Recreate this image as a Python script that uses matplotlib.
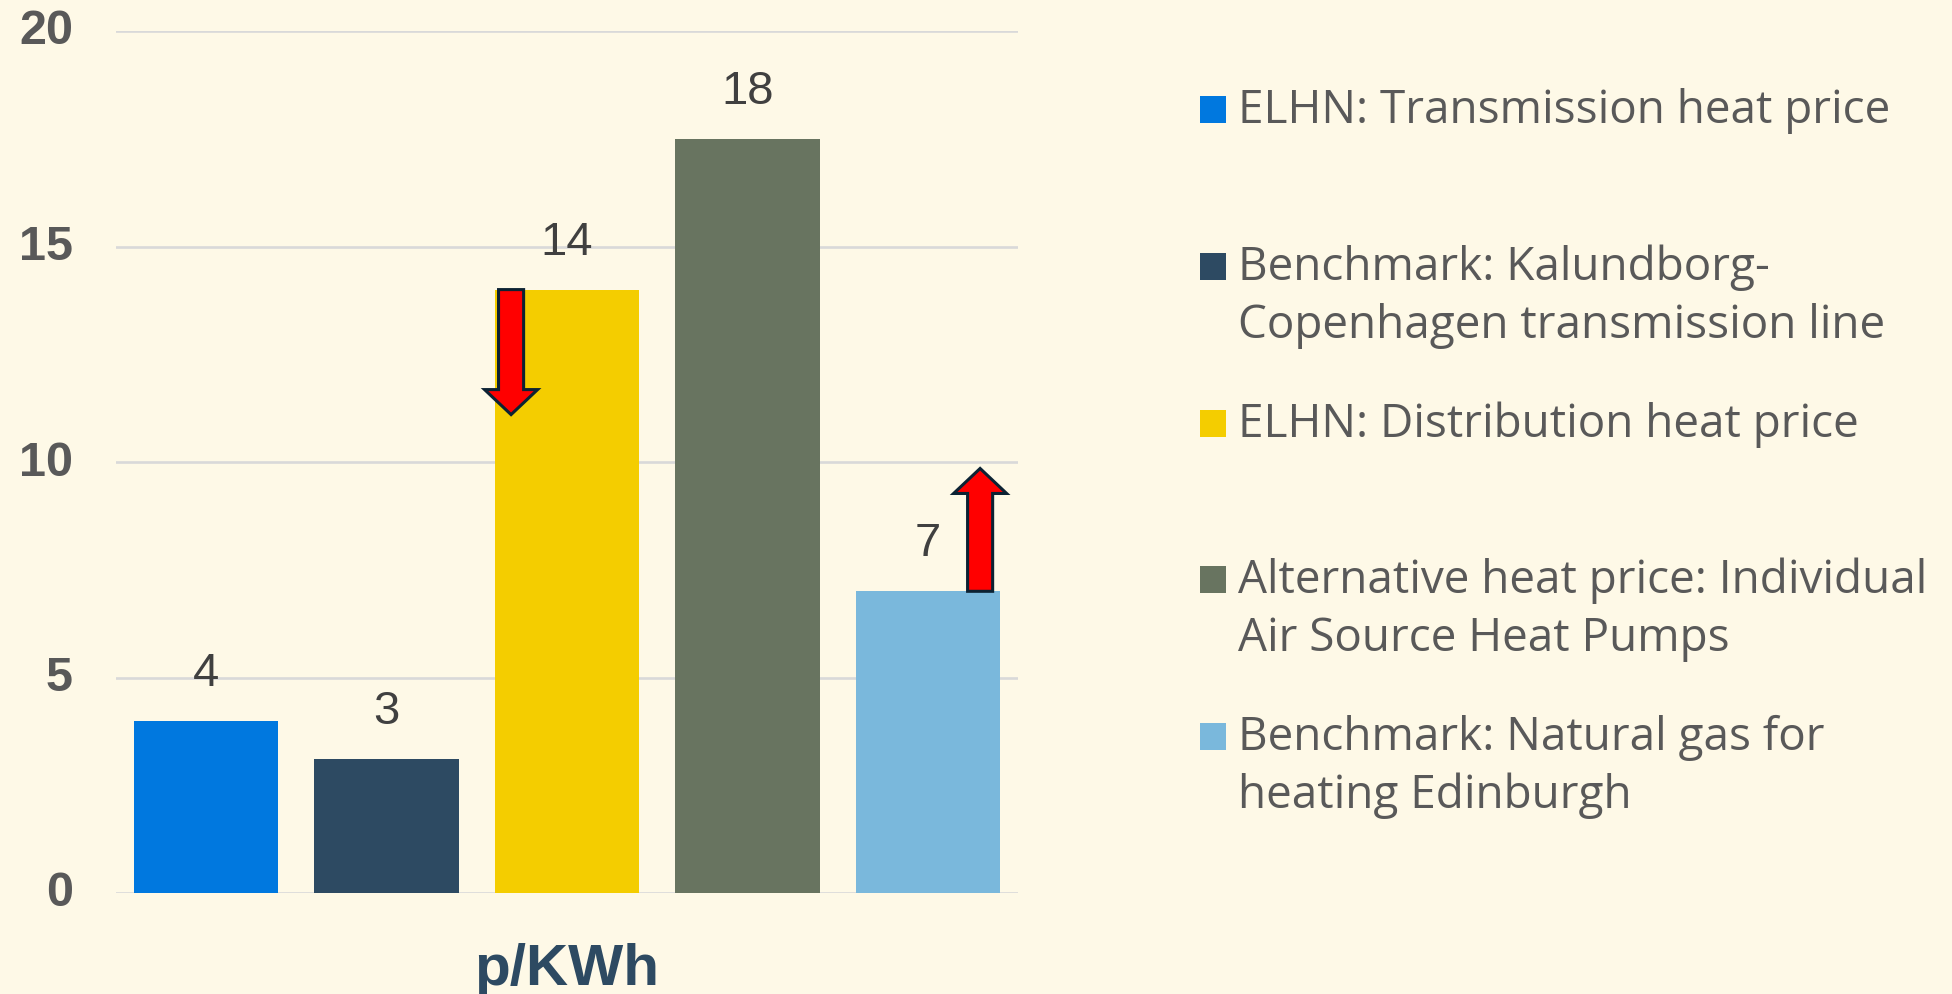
import matplotlib
matplotlib.use("Agg")
import matplotlib.pyplot as plt
from matplotlib import font_manager
from matplotlib.patches import Rectangle
import matplotlib.transforms as mtransforms

# ---------------- data ----------------
categories = [
    "ELHN: Transmission heat price",
    "Benchmark: Kalundborg-\nCopenhagen transmission line",
    "ELHN: Distribution heat price",
    "Alternative heat price: Individual\nAir Source Heat Pumps",
    "Benchmark: Natural gas for\nheating Edinburgh",
]
values = [4.0, 3.1, 14.0, 17.5, 7.0]
bar_colors = ["#0078DF", "#2D4A62", "#F4CD00", "#687460", "#7AB8DC"]
y_ticks = [0, 5, 10, 15, 20]
x_label = "p/KWh"

# change arrows: bar index, arrow end value
arrow_bars = [2, 4]
arrow_ends = [11.1, 9.85]
arrow_offsets = [-0.31, 0.29]

# ---------------- style ----------------
W, H = 1952, 994
BG = "#FEF9E7"


def has_font(name):
    try:
        font_manager.findfont(font_manager.FontProperties(family=name),
                              fallback_to_default=False)
        return True
    except Exception:
        return False


narrow = "Liberation Sans Narrow" if has_font("Liberation Sans Narrow") else "Liberation Sans"
legend_font = "Open Sans" if has_font("Open Sans") else "DejaVu Sans"

fig = plt.figure(figsize=(W / 100, H / 100), dpi=100, facecolor=BG)
ax = fig.add_axes([116 / W, 1 - 893 / H, (1018 - 116) / W, (893 - 31) / H])
ax.set_facecolor(BG)

x = list(range(len(values)))
bars = ax.bar(x, values, width=0.8, color=bar_colors, zorder=2)
ax.set_xlim(-0.5, len(values) - 0.5)
ax.set_ylim(0, 20)
ax.set_xticks([])
ax.set_yticks(y_ticks, labels=[str(v) for v in y_ticks],
              fontfamily="Liberation Sans", fontweight="bold")
ax.tick_params(axis="y", length=0, pad=31, labelsize=35, labelcolor="#595959")
for lab in ax.get_yticklabels():
    lab.set_transform(lab.get_transform() +
                      mtransforms.ScaledTranslation(0, 4 / 100, fig.dpi_scale_trans))
ax.grid(axis="y", color="#D9D9D9", lw=1.9, zorder=0)
ax.set_axisbelow(True)
for s in ax.spines.values():
    s.set_visible(False)

ax.bar_label(bars, fmt="%.0f", padding=18, fontsize=34, color="#404040",
             family=narrow)

# arrows
for bi, yend, off in zip(arrow_bars, arrow_ends, arrow_offsets):
    y0 = values[bi]
    ax.arrow(x[bi] + off, y0, 0, yend - y0, width=0.139, head_width=0.294,
             head_length=0.58, length_includes_head=True, fc="#FF0000",
             ec="#0C2233", lw=2.2, joinstyle="miter", zorder=5)

# x label
ax.set_xlabel(x_label, fontsize=42, fontweight="bold", color="#2D4A62",
              family="Liberation Sans")
ax.xaxis.set_label_coords(0.5, -92 / 862)
ax.xaxis.label.set_va("baseline")

# legend (manual, evenly spaced entries)
base0, step, pitch = 123, 156.75, 58
for i, (lab, col) in enumerate(zip(categories, bar_colors)):
    b = base0 + step * i
    fig.add_artist(Rectangle((1200 / W, 1 - b / H), 26 / W, 27 / H,
                             transform=fig.transFigure, facecolor=col,
                             edgecolor="none"))
    for j, line in enumerate(lab.split("\n")):
        fig.text(1238 / W, 1 - (b + pitch * j) / H, line, va="baseline",
                 ha="left", fontsize=33, color="#595959", family=legend_font)

fig.savefig("out.png", dpi=100, facecolor=BG)
